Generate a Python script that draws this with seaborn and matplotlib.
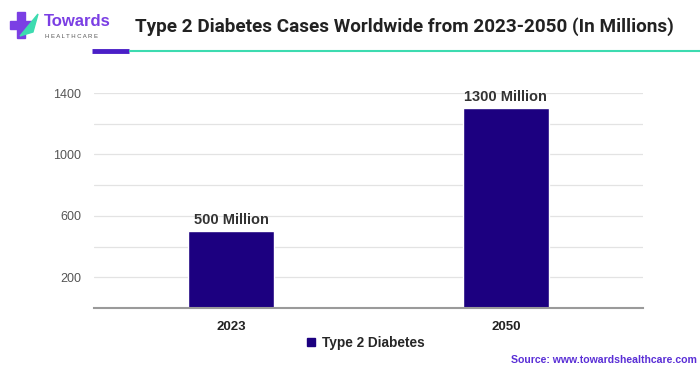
import matplotlib
matplotlib.use("Agg")
import matplotlib.pyplot as plt
import seaborn as sns
import pandas as pd
from matplotlib.lines import Line2D
from matplotlib.patches import Rectangle, Polygon

years = ["2023", "2050"]
cases = [500, 1300]
bar_labels = ["500 Million", "1300 Million"]
series_name = "Type 2 Diabetes"
yticks = [200, 600, 1000, 1400]
title = "Type 2 Diabetes Cases Worldwide from 2023-2050 (In Millions)"
source = "Source: www.towardshealthcare.com"

BAR = "#1c0080"

sns.set_theme(style="white")
plt.rcParams['font.family'] = ['Liberation Sans', 'DejaVu Sans']

df = pd.DataFrame({"year": years, "cases": cases})

fig = plt.figure(figsize=(7, 3.75), dpi=100)
ax = fig.add_axes([94/700, 1-308/375, (643-94)/700, (308-93)/375])

sns.barplot(data=df, x="year", y="cases", color=BAR, width=0.315, saturation=1, ax=ax, zorder=3)

ax.set_ylim(0, 1400)
ax.set_xlim(-0.5, 1.5)
for v in range(200, 1401, 200):
    ax.axhline(v, color="#e3e3e3", lw=0.9, zorder=0)
ax.set_yticks(yticks)
ax.set_yticklabels([str(t) for t in yticks], color="#555555", fontsize=9)
ax.tick_params(axis="y", length=0, pad=9)
ax.tick_params(axis="x", length=0, pad=9)
for lbl in ax.get_xticklabels():
    lbl.set_fontweight("bold")
    lbl.set_fontsize(9.5)
    lbl.set_color("#222222")
ax.set_xlabel("")
ax.set_ylabel("")
for s in ["top", "right", "left"]:
    ax.spines[s].set_visible(False)
ax.spines["bottom"].set_color("#9a9a9a")
ax.spines["bottom"].set_linewidth(1.5)
ax.spines["bottom"].set_zorder(4)

ax.bar_label(ax.containers[0], labels=bar_labels, padding=3, fontsize=10.5,
             fontweight="bold", color="#333333")

# legend
handle = Line2D([0], [0], marker="s", color="none", markerfacecolor=BAR,
                markeredgecolor=BAR, markersize=6)
fig.legend([handle], [series_name], loc="center", bbox_to_anchor=(364/700, 1-343/375),
           frameon=False, handletextpad=0.3, handlelength=1.0,
           prop={"weight": "bold", "size": 9.8})

# title
fig.text(404/700, 1-27/375, title, ha="center", va="center", fontsize=13.6,
         fontweight="bold", color="#222222", family=["Roboto", "DejaVu Sans"])

# header line
fig.add_artist(Line2D([92/700, 129/700], [1-51/375, 1-51/375], color="#4a1fc7", lw=3.5,
                      solid_capstyle="butt"))
fig.add_artist(Line2D([129/700, 1.0], [1-51/375, 1-51/375], color="#3ddbb0", lw=1.5,
                      solid_capstyle="butt"))

# logo
fig.add_artist(Rectangle((17/700, 1-38/375), 8/700, 26/375, color="#7b3fe4", transform=fig.transFigure))
fig.add_artist(Rectangle((10/700, 1-29/375), 22/700, 8/375, color="#7b3fe4", transform=fig.transFigure))
fig.add_artist(Polygon([(20/700, 1-36/375), (38/700, 1-14/375), (33/700, 1-32/375)],
                       closed=True, color="#3ddbb0", transform=fig.transFigure))
fig.text(44/700, 1-22/375, "Towards", fontsize=12, fontweight="bold", color="#7b3fe4",
         va="center", ha="left")
fig.text(45/700, 1-37/375, "H E A L T H C A R E", fontsize=4.3, color="#555555",
         va="center", ha="left")

# source
fig.text(697/700, 1-360/375, source, ha="right", va="center", fontsize=7.6,
         fontweight="bold", color="#5a2fd6")

fig.savefig("out.png", dpi=100)
